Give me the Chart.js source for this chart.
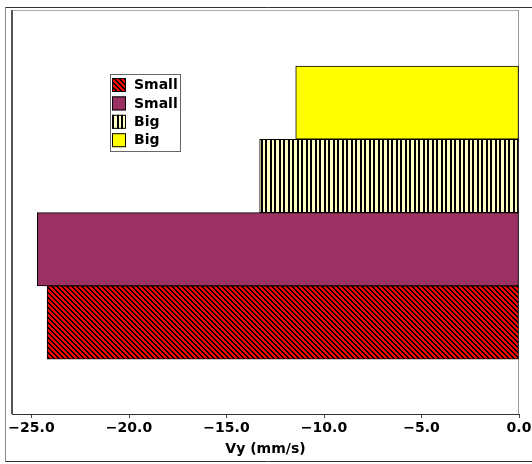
<!DOCTYPE html>
<html>
<head>
<meta charset="utf-8">
<script src="https://cdn.jsdelivr.net/npm/chart.js@4.4.0/dist/chart.umd.min.js"></script>
<style>
  html, body { margin: 0; padding: 0; background: #fff; overflow: hidden; }
  canvas { display: block; }
</style>
</head>
<body>
<canvas id="vyChart" width="532" height="464"></canvas>
<script>
// one horizontal bar per particle group, bottom to top
const labels = ['Small', 'Small', 'Big', 'Big'];
const rows = [1, 2, 3, 4];
const vy = [-24.2, -24.7, -13.3, -11.45];
const xTicks = [-25, -20, -15, -10, -5, 0];

const canvas = document.getElementById('vyChart');
const ctx = canvas.getContext('2d');

// small pixel tiles for the hatched fills
function hatch(n, bg, isInk) {
    const c = document.createElement('canvas');
    c.width = n;
    c.height = n;
    const g = c.getContext('2d');
    g.fillStyle = bg;
    g.fillRect(0, 0, n, n);
    g.fillStyle = '#000';
    for (let y = 0; y < n; y++) {
        for (let x = 0; x < n; x++) {
            if (isInk(x, y)) g.fillRect(x, y, 1, 1);
        }
    }
    return ctx.createPattern(c, 'repeat');
}

const redHatch = hatch(5, '#ff0000', (x, y) => ((x - y + 10) % 5) < 2);
const vStripes = hatch(9, '#ffffc4', (x) => x === 0 || x === 1 || x === 4 || x === 5);
const fills = [redHatch, '#9b3162', vStripes, '#ffff00'];

const fmtTick = v => (v < 0 ? '\u2212' + Math.abs(v).toFixed(1) : Math.abs(v).toFixed(1));

// outer frame plus the plot box outline (edges from the scale limits)
const framePlugin = {
    id: 'frame',
    beforeDatasetsDraw(chart) {
        const c = chart.ctx;
        const xs = chart.scales.x;
        const ys = chart.scales.y;
        const left = xs.getPixelForValue(xs.min);
        const right = xs.getPixelForValue(xs.max);
        const top = ys.getPixelForValue(ys.max);
        const bottom = ys.getPixelForValue(ys.min);
        c.save();
        c.lineWidth = 1;
        c.strokeStyle = '#333';
        c.beginPath();
        c.moveTo(5, 7.5); c.lineTo(532, 7.5);
        c.moveTo(5, 461.5); c.lineTo(532, 461.5);
        c.stroke();
        c.strokeStyle = '#888';
        c.beginPath();
        c.moveTo(5.5, 7.5); c.lineTo(5.5, 461.5);
        c.stroke();
        c.strokeStyle = '#aaa';
        c.beginPath();
        c.moveTo(left, top + 0.5); c.lineTo(right, top + 0.5);
        c.stroke();
        c.strokeStyle = '#999';
        c.beginPath();
        c.moveTo(right - 0.5, top); c.lineTo(right - 0.5, bottom);
        c.stroke();
        c.strokeStyle = '#555';
        c.lineWidth = 2;
        c.beginPath();
        c.moveTo(left, top); c.lineTo(left, bottom);
        c.stroke();
        c.restore();
    }
};

// legend box drawn inside the plot
const legendPlugin = {
    id: 'boxLegend',
    afterDraw(chart) {
        const c = chart.ctx;
        c.save();
        c.fillStyle = '#fff';
        c.fillRect(110, 74, 71, 78);
        c.strokeStyle = '#666';
        c.lineWidth = 1;
        c.strokeRect(110.5, 74.5, 70, 77);
        c.font = 'bold 14px "DejaVu Sans"';
        c.textBaseline = 'middle';
        labels.forEach((lab, i) => {
            const top = 78 + i * 18.4;
            c.fillStyle = fills[i];
            c.fillRect(112, top, 14, 14);
            c.strokeStyle = '#000';
            c.strokeRect(112.5, top + 0.5, 13, 13);
            c.fillStyle = '#000';
            c.fillText(lab, 134, top + 7.5);
        });
        c.restore();
    }
};

new Chart(ctx, {
    type: 'bar',
    data: {
        datasets: [{
            data: vy.map((v, i) => ({ x: v, y: rows[i] })),
            backgroundColor: fills,
            borderColor: '#000',
            borderWidth: 1,
            borderSkipped: false,
            barPercentage: 1,
            categoryPercentage: 1
        }]
    },
    options: {
        indexAxis: 'y',
        responsive: false,
        animation: false,
        layout: { padding: { left: 12, right: 13, top: 10, bottom: 0 } },
        plugins: {
            legend: { display: false },
            tooltip: { enabled: false }
        },
        scales: {
            y: {
                type: 'linear',
                min: -0.25,
                max: 5.265,
                offset: false,
                display: false,
                afterBuildTicks: s => { s.ticks = rows.map(v => ({ value: v })); }
            },
            x: {
                type: 'linear',
                min: -26.0,
                max: 0,
                afterFit: s => {
                    s.height = 50;
                    s.paddingLeft = 0;
                    s.paddingRight = 0;
                },
                afterBuildTicks: s => { s.ticks = xTicks.map(v => ({ value: v })); },
                ticks: {
                    callback: v => fmtTick(v),
                    color: '#000',
                    padding: 2,
                    maxRotation: 0,
                    font: { family: 'DejaVu Sans', size: 14, weight: 'bold' }
                },
                grid: {
                    drawOnChartArea: false,
                    drawTicks: true,
                    tickLength: 4,
                    tickColor: '#444'
                },
                border: { display: true, color: '#333', width: 1 },
                title: {
                    display: true,
                    text: 'Vy (mm/s)',
                    color: '#000',
                    padding: { top: 0, bottom: 6 },
                    font: { family: 'DejaVu Sans', size: 14, weight: 'bold' }
                }
            }
        }
    },
    plugins: [framePlugin, legendPlugin]
});
</script>
</body>
</html>
